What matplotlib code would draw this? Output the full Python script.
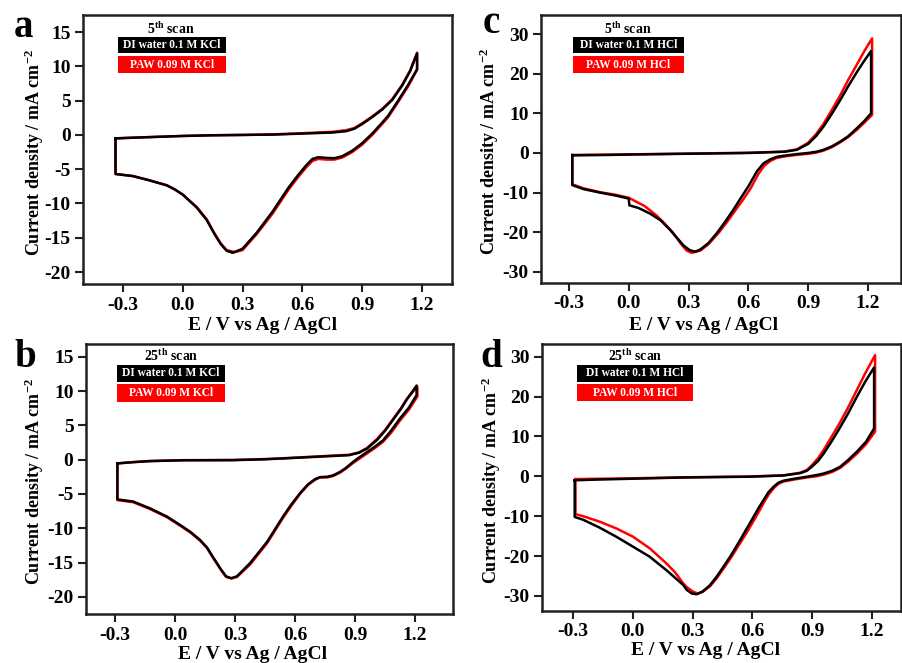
import matplotlib
matplotlib.use("Agg")
import matplotlib.pyplot as plt
from matplotlib.patches import Rectangle

plt.rcParams['font.family'] = ['Liberation Serif', 'DejaVu Serif']
plt.rcParams['font.weight'] = 'bold'
plt.rcParams['axes.unicode_minus'] = False
plt.rcParams['mathtext.fontset'] = 'custom'
plt.rcParams['mathtext.rm'] = 'Liberation Serif:bold'
plt.rcParams['mathtext.it'] = 'Liberation Serif:bold:italic'
plt.rcParams['mathtext.bf'] = 'Liberation Serif:bold'
plt.rcParams['mathtext.default'] = 'rm'

# ---------------- data ----------------
# Panel a : 5th scan, KCl
a_di_E = [-0.337, -0.2, -0.1, 0.0, 0.15, 0.3, 0.45, 0.6, 0.75, 0.82, 0.86, 0.9, 0.95, 1.0, 1.05, 1.1, 1.14, 1.175,
          1.175, 1.13, 1.08, 1.03, 1.0, 0.95, 0.9, 0.85, 0.8, 0.76, 0.72, 0.68, 0.65, 0.62, 0.58, 0.53, 0.45, 0.37,
          0.3, 0.25, 0.22, 0.19, 0.16, 0.12, 0.07, 0.03, 0.0, -0.04, -0.08, -0.17, -0.25, -0.337, -0.337]
a_di_J = [-0.5, -0.35, -0.25, -0.15, -0.05, 0.0, 0.05, 0.2, 0.35, 0.55, 0.9, 1.6, 2.6, 3.7, 5.1, 7.2, 9.3, 11.9,
          9.6, 7.3, 5.0, 2.8, 1.8, 0.2, -1.2, -2.3, -3.1, -3.4, -3.35, -3.25, -3.5, -4.4, -5.8, -7.7, -11.2, -14.3,
          -16.6, -17.2, -16.9, -15.9, -14.5, -12.4, -10.6, -9.5, -8.7, -7.95, -7.35, -6.6, -6.0, -5.7, -0.5]
a_paw_E = [-0.337, -0.2, -0.1, 0.0, 0.15, 0.3, 0.45, 0.6, 0.75, 0.82, 0.86, 0.9, 0.95, 1.0, 1.05, 1.1, 1.14, 1.175,
           1.175, 1.13, 1.08, 1.03, 1.0, 0.95, 0.9, 0.85, 0.8, 0.76, 0.72, 0.68, 0.65, 0.62, 0.58, 0.53, 0.45, 0.37,
           0.3, 0.26, 0.22, 0.19, 0.16, 0.12, 0.07, 0.03, 0.0, -0.04, -0.08, -0.17, -0.25, -0.337, -0.337]
a_paw_J = [-0.5, -0.35, -0.25, -0.15, -0.05, 0.0, 0.08, 0.25, 0.45, 0.7, 1.0, 1.7, 2.7, 3.8, 5.2, 7.3, 9.4, 12.0,
           9.5, 7.1, 4.8, 2.6, 1.6, 0.0, -1.4, -2.5, -3.3, -3.6, -3.6, -3.5, -3.8, -4.7, -6.1, -8.0, -11.5, -14.5,
           -16.8, -17.1, -16.8, -15.8, -14.4, -12.3, -10.5, -9.5, -8.7, -7.95, -7.35, -6.6, -6.0, -5.7, -0.5]

# Panel b : 25th scan, KCl
b_di_E = [-0.288, -0.2, -0.125, 0.04, 0.29, 0.45, 0.54, 0.7, 0.87, 0.92, 0.96, 1.01, 1.05, 1.09, 1.13, 1.16, 1.208,
          1.208, 1.17, 1.125, 1.08, 1.04, 1.0, 0.96, 0.92, 0.89, 0.855, 0.825, 0.79, 0.76, 0.725, 0.7, 0.665, 0.625,
          0.58, 0.54, 0.46, 0.375, 0.31, 0.28, 0.255, 0.23, 0.19, 0.16, 0.125, 0.08, 0.04, -0.04, -0.125, -0.21,
          -0.288, -0.288]
b_di_J = [-0.55, -0.35, -0.22, -0.1, -0.08, 0.05, 0.17, 0.4, 0.65, 1.0, 1.6, 2.85, 4.2, 5.8, 7.4, 8.8, 10.8,
          9.4, 7.6, 6.0, 4.2, 2.8, 1.9, 1.1, 0.3, -0.35, -1.2, -1.8, -2.3, -2.5, -2.55, -2.85, -3.6, -4.9,
          -6.6, -8.3, -12.0, -15.1, -17.0, -17.3, -17.0, -16.0, -14.2, -12.8, -11.7, -10.6, -9.8, -8.3, -7.1, -6.1,
          -5.8, -0.55]
b_paw_E = [-0.288, -0.2, -0.125, 0.04, 0.29, 0.45, 0.54, 0.7, 0.87, 0.92, 0.96, 1.01, 1.05, 1.09, 1.13, 1.16, 1.212,
           1.212, 1.17, 1.125, 1.08, 1.04, 1.0, 0.96, 0.92, 0.89, 0.855, 0.825, 0.79, 0.76, 0.725, 0.7, 0.665, 0.625,
           0.58, 0.54, 0.46, 0.375, 0.31, 0.285, 0.255, 0.23, 0.19, 0.16, 0.125, 0.08, 0.04, -0.04, -0.125, -0.21,
           -0.288, -0.288]
b_paw_J = [-0.55, -0.35, -0.2, -0.08, -0.05, 0.08, 0.2, 0.45, 0.7, 1.05, 1.7, 3.0, 4.3, 5.9, 7.5, 8.9, 10.6,
           9.2, 7.3, 5.7, 3.9, 2.6, 1.7, 0.9, 0.1, -0.5, -1.3, -1.9, -2.4, -2.6, -2.6, -2.95, -3.7, -5.0,
           -6.8, -8.5, -12.2, -15.3, -17.1, -17.3, -17.1, -16.1, -14.3, -12.9, -11.8, -10.7, -9.9, -8.4, -7.2, -6.2,
           -5.9, -0.55]

# Panel c : 5th scan, HCl
c_di_E = [-0.283, -0.1, 0.0, 0.3, 0.6, 0.78, 0.843, 0.9, 0.94, 0.977, 1.02, 1.061, 1.1, 1.145, 1.18, 1.215,
          1.215, 1.18, 1.145, 1.1, 1.061, 1.02, 0.977, 0.94, 0.9, 0.84, 0.777, 0.74, 0.71, 0.676, 0.643, 0.6,
          0.56, 0.525, 0.48, 0.442, 0.4, 0.36, 0.333, 0.305, 0.274, 0.24, 0.207, 0.16, 0.107, 0.05, 0.003, 0.0,
          -0.07, -0.144, -0.228, -0.283, -0.283]
c_di_J = [-0.6, -0.5, -0.4, -0.2, 0.0, 0.3, 0.8, 2.3, 4.3, 6.7, 10.0, 13.4, 16.8, 20.5, 23.2, 25.7,
          10.0, 8.0, 6.3, 4.2, 2.9, 1.7, 0.8, 0.3, 0.0, -0.3, -0.7, -1.0, -1.6, -2.6, -4.6, -8.4,
          -11.5, -14.3, -17.6, -20.2, -22.7, -24.3, -24.9, -24.5, -23.3, -21.3, -19.4, -17.0, -15.3, -13.9, -13.2, -11.5,
          -10.7, -10.0, -9.1, -8.1, -0.6]
c_paw_E = [-0.283, 0.0, 0.3, 0.6, 0.78, 0.843, 0.9, 0.94, 0.977, 1.02, 1.061, 1.1, 1.145, 1.18, 1.22,
           1.22, 1.18, 1.145, 1.1, 1.061, 1.02, 0.977, 0.94, 0.9, 0.84, 0.777, 0.74, 0.71, 0.68, 0.65, 0.61,
           0.57, 0.53, 0.49, 0.45, 0.4, 0.36, 0.316, 0.29, 0.26, 0.22, 0.18, 0.14, 0.08, 0.0,
           -0.07, -0.144, -0.228, -0.283, -0.283]
c_paw_J = [-0.5, -0.35, -0.15, 0.05, 0.35, 0.9, 2.6, 4.8, 7.4, 11.0, 14.6, 18.4, 22.4, 25.6, 28.9,
           9.6, 7.6, 5.9, 4.0, 2.7, 1.5, 0.6, 0.1, -0.2, -0.5, -0.9, -1.3, -2.0, -3.2, -5.3, -9.0,
           -12.0, -14.8, -17.6, -20.2, -23.0, -24.6, -25.2, -24.6, -22.8, -20.0, -17.8, -15.8, -13.4, -11.3,
           -10.5, -9.9, -8.9, -7.9, -0.5]

# Panel d : 25th scan, HCl
d_di_E = [-0.292, -0.2, 0.0, 0.253, 0.588, 0.756, 0.84, 0.873, 0.898, 0.93, 0.957, 1.0, 1.04, 1.08, 1.124, 1.165, 1.21,
          1.21, 1.17, 1.124, 1.08, 1.04, 1.0, 0.957, 0.92, 0.873, 0.81, 0.756, 0.73, 0.706, 0.68, 0.655, 0.63, 0.605,
          0.57, 0.538, 0.49, 0.454, 0.42, 0.387, 0.35, 0.32, 0.295, 0.27, 0.253, 0.21, 0.169, 0.085, 0.002, -0.082,
          -0.166, -0.25, -0.292, -0.292]
d_di_J = [-1.0, -0.85, -0.6, -0.3, -0.1, 0.2, 0.8, 1.4, 2.4, 3.9, 5.7, 9.0, 12.3, 15.8, 20.0, 23.7, 27.3,
          12.0, 8.7, 6.2, 4.1, 2.4, 1.4, 0.7, 0.3, -0.1, -0.6, -1.1, -1.6, -2.6, -4.0, -6.0, -8.0, -10.2,
          -13.2, -16.0, -20.0, -22.7, -25.2, -27.3, -28.9, -29.6, -29.4, -28.5, -27.3, -25.4, -23.6, -20.2, -17.7, -15.2,
          -12.9, -10.9, -10.2, -1.0]
d_paw_E = [-0.288, 0.0, 0.253, 0.588, 0.756, 0.84, 0.873, 0.898, 0.93, 0.957, 1.0, 1.04, 1.08, 1.124, 1.165, 1.215,
           1.215, 1.17, 1.124, 1.08, 1.04, 1.0, 0.957, 0.92, 0.873, 0.81, 0.756, 0.73, 0.71, 0.685, 0.66, 0.635, 0.61,
           0.575, 0.54, 0.49, 0.454, 0.42, 0.387, 0.35, 0.325, 0.3, 0.27, 0.253, 0.21, 0.169, 0.085, 0.002, -0.082,
           -0.166, -0.25, -0.288, -0.288]
d_paw_J = [-0.7, -0.5, -0.25, -0.05, 0.25, 0.9, 1.6, 2.8, 4.6, 6.6, 10.2, 13.6, 17.3, 21.7, 25.8, 30.4,
           11.2, 8.1, 5.7, 3.7, 2.1, 1.1, 0.4, 0.0, -0.3, -0.8, -1.3, -1.9, -2.8, -4.3, -6.3, -8.6, -10.8,
           -13.8, -16.6, -20.6, -23.2, -25.6, -27.6, -29.0, -29.4, -28.9, -27.8, -26.9, -24.0, -21.9, -18.1, -15.2, -13.1,
           -11.4, -10.0, -9.5, -0.7]

x_ticks = [-0.3, 0.0, 0.3, 0.6, 0.9, 1.2]
kcl_yticks = [-20, -15, -10, -5, 0, 5, 10, 15]
hcl_yticks = [-30, -20, -10, 0, 10, 20, 30]
kcl_labels = ["DI water 0.1 M KCl", "PAW 0.09 M KCl"]
hcl_labels = ["DI water 0.1 M HCl", "PAW 0.09 M HCl"]

# ---------------- figure ----------------
W, H = 902, 663
fig = plt.figure(figsize=(W / 100, H / 100), dpi=100)


def px_rect(l, t, r, b):
    return [l / W, 1 - b / H, (r - l) / W, (b - t) / H]


panels = [
    dict(letter='a', rect=(83, 15, 452, 284), xlim=(-0.5, 1.35), ylim=(-21.75, 17.5), yticks=kcl_yticks,
         di=(a_di_E, a_di_J), paw=(a_paw_E, a_paw_J), labels=kcl_labels, scan='5',
         box=(118, 226, 37, 53, 56, 73), title=(171, 29), letter_pos=(14, 37), ylab_x=-0.100, xlab=(0.486, -0.123)),
    dict(letter='b', rect=(86, 344, 453, 614), xlim=(-0.445, 1.39), ylim=(-22.5, 16.85), yticks=kcl_yticks,
         di=(b_di_E, b_di_J), paw=(b_paw_E, b_paw_J), labels=kcl_labels, scan='25',
         box=(117, 225, 365, 382, 384, 402), title=(171, 356), letter_pos=(14, 367), ylab_x=-0.109, xlab=(0.454, -0.120)),
    dict(letter='c', rect=(541, 15, 901, 283), xlim=(-0.44, 1.365), ylim=(-32.8, 34.8), yticks=hcl_yticks,
         di=(c_di_E, c_di_J), paw=(c_paw_E, c_paw_J), labels=hcl_labels, scan='5',
         box=(573, 684, 37, 53, 56, 73), title=(628, 29), letter_pos=(483, 33), ylab_x=-0.111, xlab=(0.451, -0.126)),
    dict(letter='d', rect=(542, 344, 901, 611), xlim=(-0.456, 1.345), ylim=(-33.8, 33.2), yticks=hcl_yticks,
         di=(d_di_E, d_di_J), paw=(d_paw_E, d_paw_J), labels=hcl_labels, scan='25',
         box=(577, 693, 365, 382, 384, 401), title=(635, 356), letter_pos=(480, 367), ylab_x=-0.109, xlab=(0.455, -0.115)),
]

edge = '#231f20'
for p in panels:
    ax = fig.add_axes(px_rect(*p['rect']))
    ax.plot(p['paw'][0], p['paw'][1], color='#ff0000', lw=1.8, solid_joinstyle='round')
    ax.plot(p['di'][0], p['di'][1], color='black', lw=1.8, solid_joinstyle='round')
    ax.set_xlim(*p['xlim'])
    ax.set_ylim(*p['ylim'])
    ax.set_xticks(x_ticks)
    ax.set_xticklabels(['%.1f' % v for v in x_ticks])
    ax.set_yticks(p['yticks'])
    ax.set_yticklabels([str(v) for v in p['yticks']])
    ax.tick_params(axis='both', which='both', direction='out', length=6, width=1.5, color=edge,
                   labelsize=14, top=False, right=False, pad=3)
    for lab in ax.get_xticklabels() + ax.get_yticklabels():
        lab.set_fontweight('bold')
    for s in ax.spines.values():
        s.set_linewidth(1.8)
        s.set_color(edge)
    ax.set_ylabel('Current density / mA cm$^{-2}$', fontsize=13, fontweight='bold')
    ax.yaxis.set_label_coords(p['ylab_x'], 0.49)
    ax.set_xlabel('E / V vs Ag / AgCl', fontsize=14, fontweight='bold', va='top')
    ax.xaxis.set_label_coords(p['xlab'][0], p['xlab'][1])

    # legend-like boxes
    l, r, bt, bb, rt, rb = p['box']
    fig.add_artist(Rectangle((l / W, 1 - bb / H), (r - l) / W, (bb - bt) / H, transform=fig.transFigure,
                             facecolor='black', edgecolor='none'))
    fig.add_artist(Rectangle((l / W, 1 - rb / H), (r - l) / W, (rb - rt) / H, transform=fig.transFigure,
                             facecolor='#ff0000', edgecolor='none'))
    fig.text((l + r) / 2 / W, 1 - (bt + bb) / 2 / H, p['labels'][0], color='white', fontsize=8.3,
             fontweight='bold', ha='center', va='center')
    fig.text((l + r) / 2 / W, 1 - (rt + rb) / 2 / H, p['labels'][1], color='white', fontsize=8.3,
             fontweight='bold', ha='center', va='center')
    fig.text(p['title'][0] / W, 1 - p['title'][1] / H, p['scan'] + '$^{\\mathrm{th}}$ scan', fontsize=10,
             fontweight='bold', ha='center', va='center')
    fig.text(p['letter_pos'][0] / W, 1 - p['letter_pos'][1] / H, p['letter'], fontsize=28,
             fontweight='bold', ha='left', va='baseline')

fig.savefig('out.png', dpi=100)
